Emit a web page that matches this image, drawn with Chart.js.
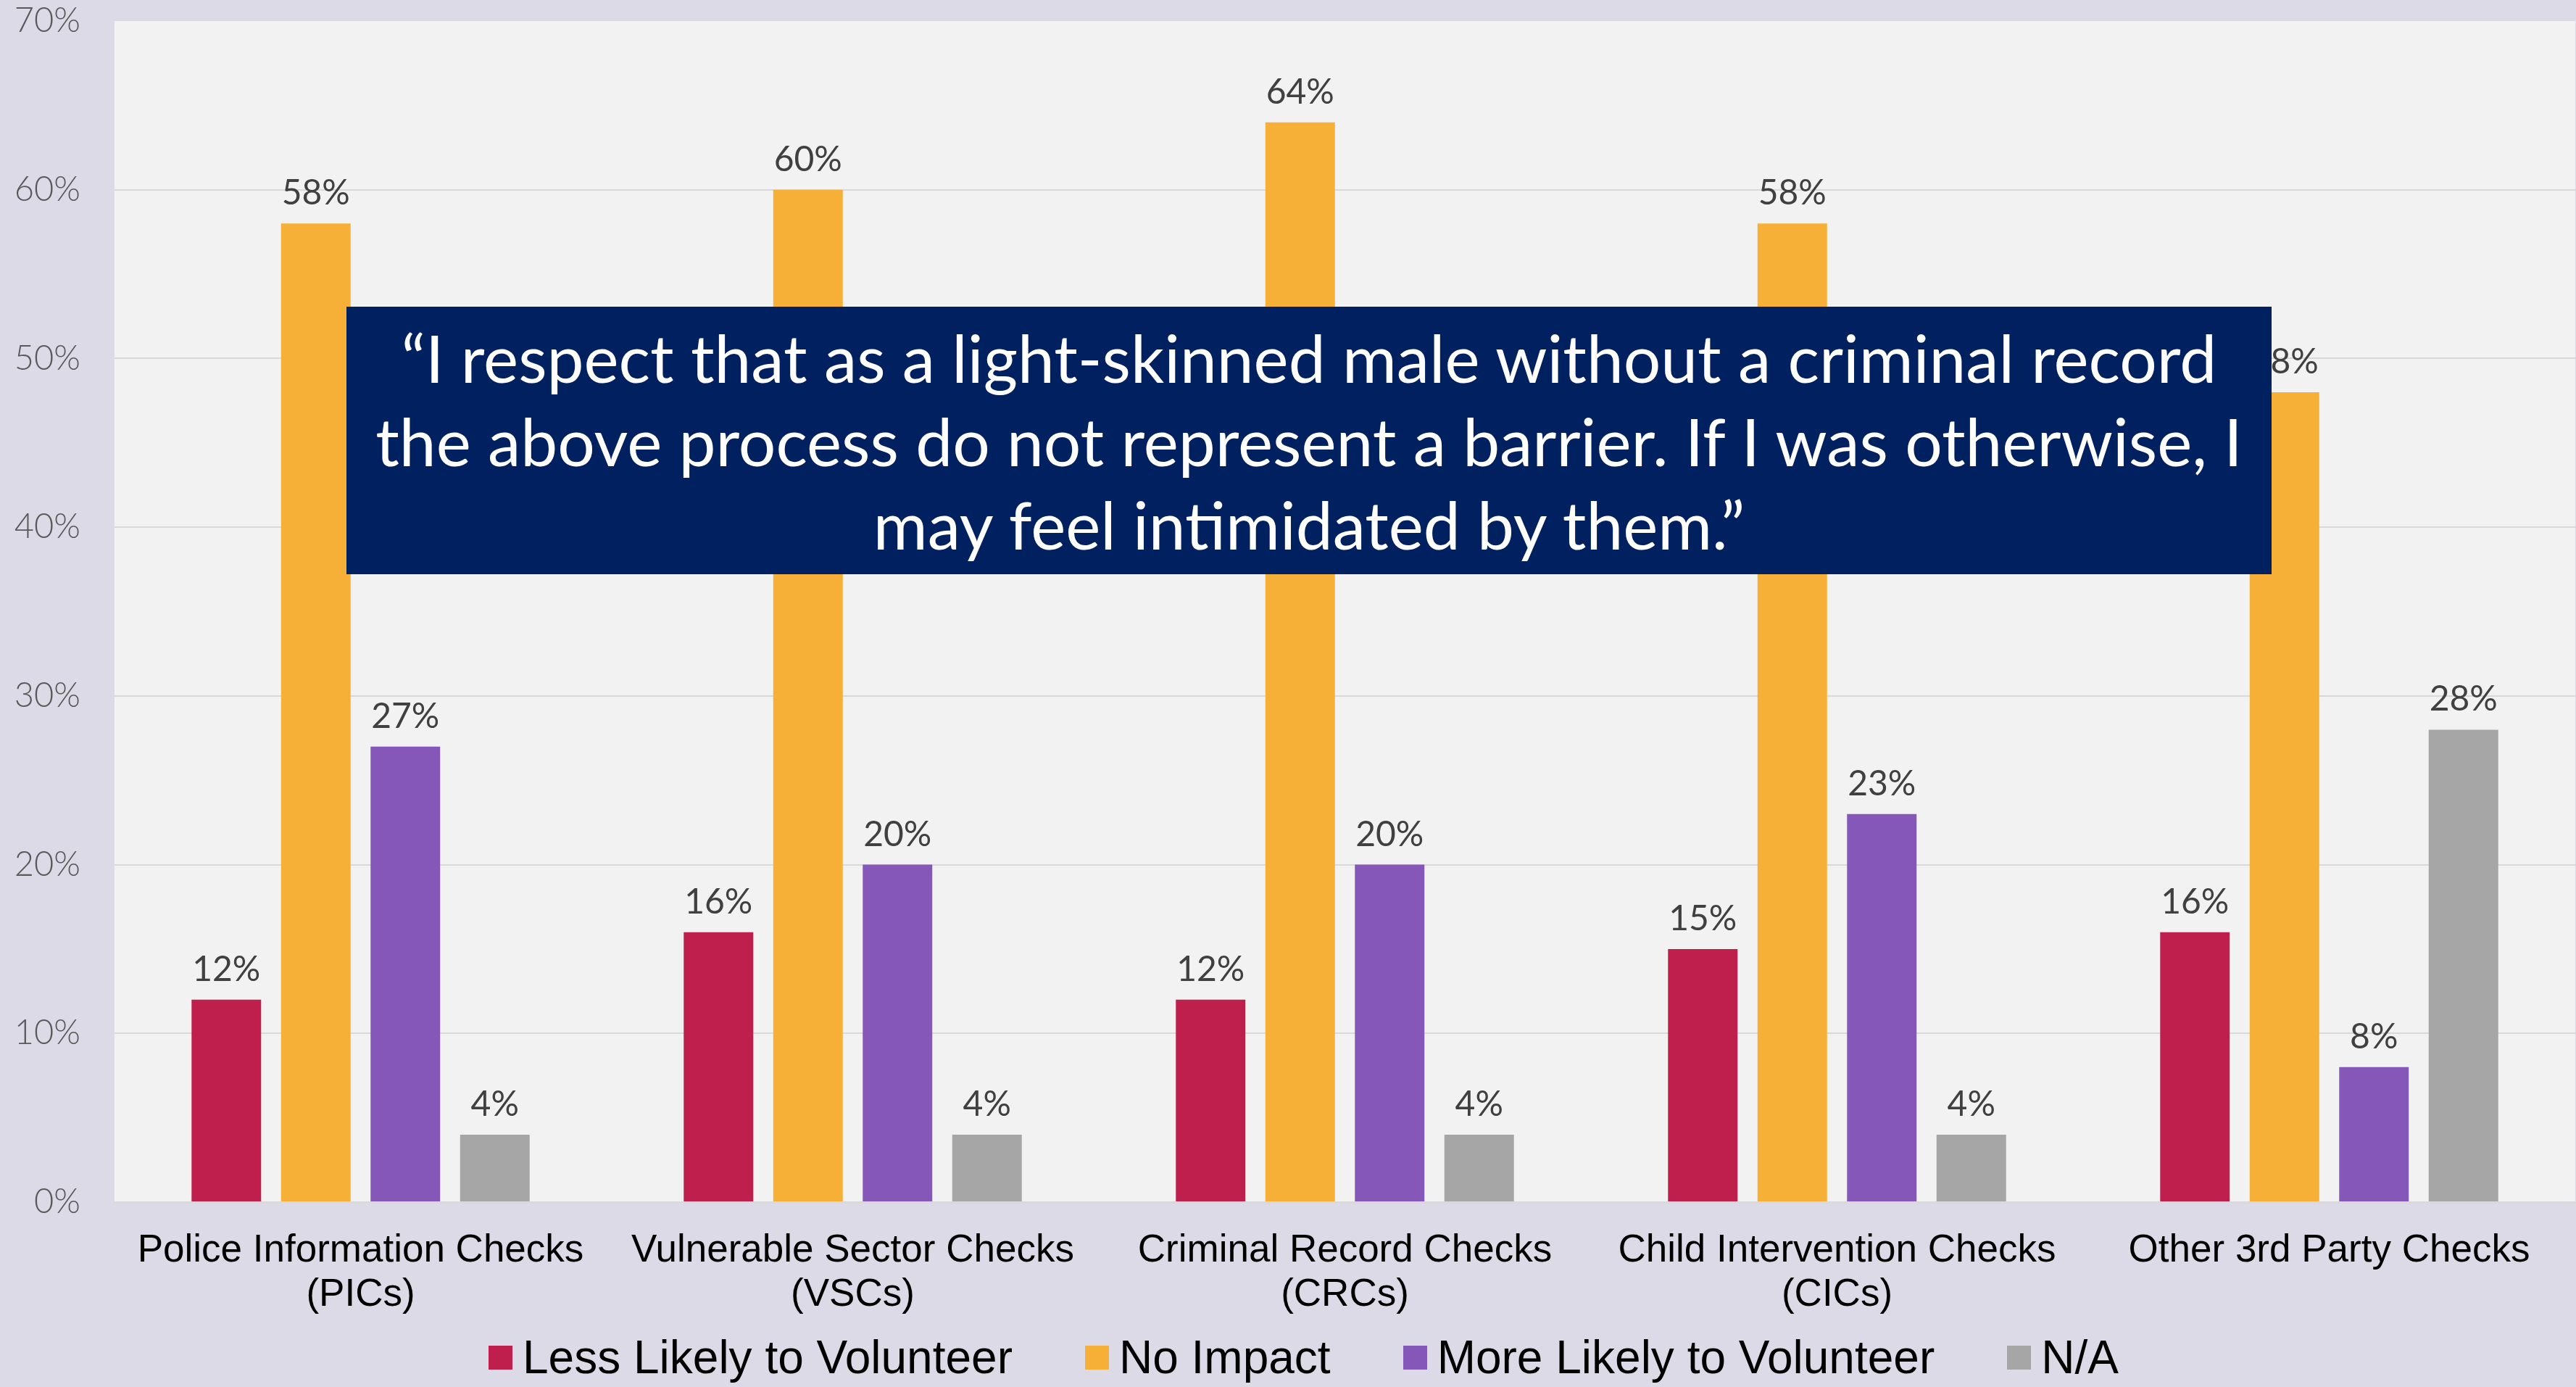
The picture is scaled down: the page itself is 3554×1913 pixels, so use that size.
<!DOCTYPE html>
<html>
<head>
<meta charset="utf-8">
<script src="https://cdn.jsdelivr.net/npm/chart.js@4.4.1/dist/chart.umd.min.js"></script>
<style>
  html, body { margin: 0; padding: 0; background: #DCDAE6; }
  #wrap { position: relative; width: 3554px; height: 1913px; overflow: hidden; }
  #chart { position: absolute; left: 0; top: 0; }
  /* caja de la cita encima del gráfico */
  #quote {
    position: absolute; left: 478px; top: 423px; width: 2656px; height: 369px;
    background: #002060; color: #fff; box-sizing: border-box;
    display: flex; align-items: center; justify-content: center; text-align: center;
    font-family: Lato, "Open Sans", sans-serif; font-size: 91px; line-height: 115px;
  }
  #legend {
    position: absolute; left: 674px; top: 1836px; height: 72px;
    display: flex; align-items: center;
    font-family: "Liberation Sans", Arial, sans-serif; font-size: 64px; color: #000;
  }
  #legend .item { display: flex; align-items: center; margin-right: 100px; }
  #legend .box { width: 33px; height: 33px; margin-right: 14px; }
</style>
</head>
<body>
<div id="wrap">
  <canvas id="chart" width="3554" height="1913"></canvas>
  <div id="quote"><div>“I respect that as a light-skinned male without a criminal record<br>the above process do not represent a barrier. If I was otherwise, I<br>may feel intimidated by them.”</div></div>
  <div id="legend"></div>
</div>
<script>
// Categorías (tipos de verificación)
const categories = [
    ['Police Information Checks', '(PICs)'],
    ['Vulnerable Sector Checks', '(VSCs)'],
    ['Criminal Record Checks', '(CRCs)'],
    ['Child Intervention Checks', '(CICs)'],
    ['Other 3rd Party Checks']
];

// Series (porcentaje de respuestas)
const seriesNames = ['Less Likely to Volunteer', 'No Impact', 'More Likely to Volunteer', 'N/A'];
const lessLikely = [12, 16, 12, 15, 16];
const noImpact = [58, 60, 64, 58, 48];
const moreLikely = [27, 20, 20, 23, 8];
const notApplicable = [4, 4, 4, 4, 28];
const seriesColors = ['#BE1F4C', '#F6AF37', '#8457B8', '#A6A6A6'];

// Eje Y
const yMax = 70;
const yStep = 10;

const seriesValues = [lessLikely, noImpact, moreLikely, notApplicable];

// Fondo gris claro del área de trazado
const plotBackground = {
    id: 'plotBackground',
    beforeDraw(chart) {
        const { ctx, chartArea: a } = chart;
        ctx.save();
        ctx.fillStyle = '#F2F2F2';
        ctx.fillRect(a.left, a.top, a.right - a.left, a.bottom - a.top);
        ctx.restore();
    }
};

// Etiquetas de valor encima de cada barra
const valueLabels = {
    id: 'valueLabels',
    afterDatasetsDraw(chart) {
        const ctx = chart.ctx;
        ctx.save();
        ctx.font = '48px Lato, "Open Sans", sans-serif';
        ctx.fillStyle = '#404040';
        ctx.textAlign = 'center';
        ctx.textBaseline = 'alphabetic';
        chart.data.datasets.forEach((ds, i) => {
            chart.getDatasetMeta(i).data.forEach((bar, j) => {
                ctx.fillText(ds.data[j] + '%', bar.x, bar.y - 26);
            });
        });
        ctx.restore();
    }
};

const ctx = document.getElementById('chart').getContext('2d');

new Chart(ctx, {
    type: 'bar',
    data: {
        labels: categories,
        datasets: seriesNames.map((name, i) => ({
            label: name,
            data: seriesValues[i],
            backgroundColor: seriesColors[i],
            borderWidth: 0,
            categoryPercentage: 0.7275,
            barPercentage: 0.777
        }))
    },
    options: {
        responsive: false,
        devicePixelRatio: 1,
        animation: false,
        layout: { padding: { top: 0, right: 1, left: 0, bottom: 0 } },
        plugins: {
            legend: { display: false },
            tooltip: { enabled: false }
        },
        scales: {
            x: {
                grid: { display: false, drawTicks: false },
                border: { display: true, color: '#D9D9D9', width: 3 },
                ticks: {
                    color: '#000',
                    padding: 37,
                    maxRotation: 0,
                    autoSkip: false,
                    font: { family: '"Liberation Sans", Arial, sans-serif', size: 53, lineHeight: 1.15 }
                },
                afterFit(scale) { scale.height = 255; }
            },
            y: {
                min: 0,
                max: yMax,
                grid: {
                    drawTicks: false,
                    lineWidth: 2,
                    color: c => (c.tick && c.tick.value === yMax) ? 'rgba(0,0,0,0)' : '#D9D9D9'
                },
                border: { display: false },
                ticks: {
                    stepSize: yStep,
                    padding: 47,
                    color: '#595959',
                    font: { family: 'Lato, "Open Sans", sans-serif', size: 47, weight: '300' },
                    callback: v => v + '%'
                },
                afterFit(scale) {
                    scale.width = 158;
                    // margen superior fijo del área de trazado
                    scale.paddingTop = 29;
                    scale.paddingBottom = 0;
                }
            }
        }
    },
    plugins: [plotBackground, valueLabels]
});

// Leyenda debajo del gráfico
const legend = document.getElementById('legend');
seriesNames.forEach((name, i) => {
    const item = document.createElement('div');
    item.className = 'item';
    const box = document.createElement('div');
    box.className = 'box';
    box.style.background = seriesColors[i];
    const text = document.createElement('span');
    text.textContent = name;
    item.appendChild(box);
    item.appendChild(text);
    legend.appendChild(item);
});
</script>
</body>
</html>
